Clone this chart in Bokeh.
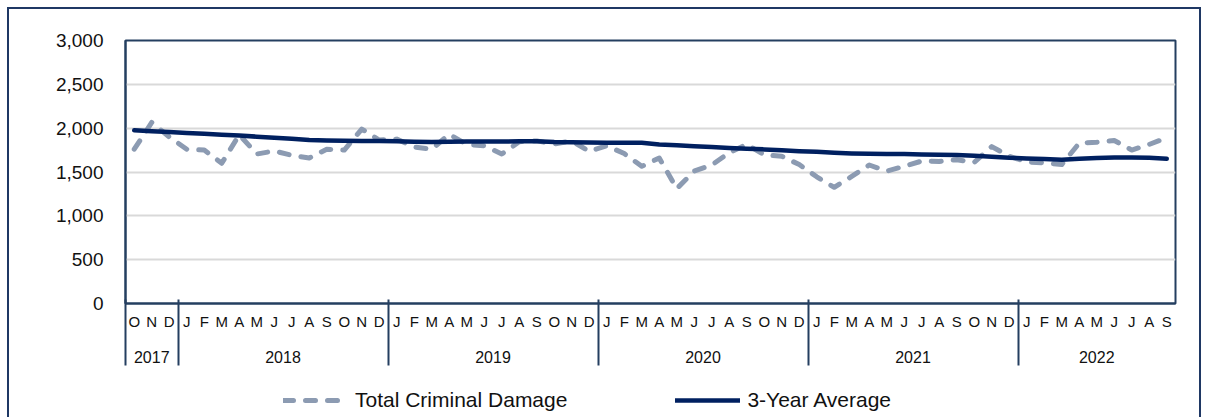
from bokeh.plotting import figure
from bokeh.layouts import column
from bokeh.models import (LinearAxis, FixedTicker, NumeralTickFormatter, Legend,
                          LegendItem, Range1d)
from bokeh.embed import file_html
from bokeh.resources import INLINE

# ---------------- data ----------------
month_letters = (["O", "N", "D"]
                 + ["J", "F", "M", "A", "M", "J", "J", "A", "S", "O", "N", "D"] * 4
                 + ["J", "F", "M", "A", "M", "J", "J", "A", "S"])
years = ["2017", "2018", "2019", "2020", "2021", "2022"]
months_per_year = [3, 12, 12, 12, 12, 9]
series_names = ["Total Criminal Damage", "3-Year Average"]

total_damage = [
    1760, 2065, 1900,                                                     # 2017 O-D
    1760, 1750, 1600, 1925, 1705, 1740, 1690, 1660, 1760, 1750, 1990, 1865,  # 2018
    1875, 1785, 1760, 1930, 1815, 1800, 1705, 1845, 1855, 1820, 1855, 1735,  # 2019
    1800, 1710, 1565, 1660, 1310, 1510, 1580, 1720, 1815, 1695, 1680, 1585,  # 2020
    1445, 1325, 1450, 1580, 1510, 1565, 1625, 1620, 1640, 1610, 1790, 1680,  # 2021
    1615, 1605, 1585, 1830, 1840, 1860, 1750, 1815, 1890,                    # 2022 J-S
]
three_year_avg = [
    1975, 1965, 1955,
    1945, 1935, 1925, 1915, 1903, 1892, 1880, 1866, 1860, 1857, 1855, 1855,
    1850, 1846, 1842, 1845, 1848, 1848, 1848, 1850, 1850, 1842, 1840, 1836,
    1835, 1835, 1833, 1815, 1805, 1795, 1785, 1775, 1766, 1758, 1748, 1738,
    1730, 1720, 1712, 1708, 1705, 1705, 1700, 1697, 1693, 1685, 1675, 1662,
    1655, 1648, 1640, 1650, 1660, 1665, 1665, 1662, 1650,
]

y_ticks = [0, 500, 1000, 1500, 2000, 2500, 3000]

# ---------------- derived positions ----------------
idx = list(range(len(month_letters)))
starts = []
s = 0
for n in months_per_year:
    starts.append(s)
    s += n
year_centers = [st + (n - 1) / 2 for st, n in zip(starts, months_per_year)]
boundaries = [st - 0.5 for st in starts]

NAVY = "#002060"
FRAME = "#243f60"
DASH = "#8C9BB2"
FONT = "Liberation Sans"
DASH_STYLE = dict(line_color=DASH, line_width=5, line_dash="10 12",
                  line_cap="round", line_join="round")
AVG_STYLE = dict(line_color=NAVY, line_width=4.5, line_cap="round", line_join="round")

p = figure(width=1190, height=364, output_backend="svg", toolbar_location=None,
           x_axis_type=None, x_range=Range1d(-0.5, len(idx) - 0.5),
           y_range=Range1d(0, 3000),
           min_border_left=116, min_border_right=24, min_border_top=31,
           min_border_bottom=70)

p.outline_line_color = FRAME
p.outline_line_width = 2
p.xgrid.visible = False
p.ygrid.grid_line_color = "#d9d9d9"
p.ygrid.grid_line_width = 2
p.ygrid.ticker = FixedTicker(ticks=y_ticks)

ya = p.yaxis[0]
ya.ticker = FixedTicker(ticks=y_ticks)
ya.formatter = NumeralTickFormatter(format="0,0")
ya.axis_line_color = FRAME
ya.axis_line_width = 2
ya.major_tick_line_color = None
ya.minor_tick_line_color = None
ya.major_tick_out = 0
ya.major_label_standoff = 22
ya.major_label_text_font = FONT
ya.major_label_text_font_size = "19px"
ya.major_label_text_color = "#111111"

# month letters
month_axis = LinearAxis(
    ticker=FixedTicker(ticks=idx),
    major_label_overrides={i: m for i, m in enumerate(month_letters)},
)
month_axis.axis_line_color = FRAME
month_axis.axis_line_width = 2
month_axis.major_tick_line_color = None
month_axis.minor_tick_line_color = None
month_axis.major_tick_out = 0
month_axis.major_tick_in = 0
month_axis.minor_tick_out = 0
month_axis.minor_tick_in = 0
month_axis.major_label_standoff = 9
month_axis.major_label_text_font = FONT
month_axis.major_label_text_font_size = "15px"
month_axis.major_label_text_color = "#111111"
p.add_layout(month_axis, "below")

# year labels
year_axis = LinearAxis(
    ticker=FixedTicker(ticks=year_centers),
    major_label_overrides={c: y for c, y in zip(year_centers, years)},
)
year_axis.axis_line_color = None
year_axis.major_tick_line_color = None
year_axis.minor_tick_line_color = None
year_axis.major_tick_out = 0
year_axis.major_tick_in = 0
year_axis.minor_tick_out = 0
year_axis.minor_tick_in = 0
year_axis.major_label_standoff = 18
year_axis.major_label_text_font = FONT
year_axis.major_label_text_font_size = "16px"
year_axis.major_label_text_color = "#111111"
p.add_layout(year_axis, "below")

# year separators (ticks pointing back up to the frame)
sep_axis = LinearAxis(ticker=FixedTicker(ticks=[], minor_ticks=boundaries))
sep_axis.axis_line_color = None
sep_axis.major_tick_line_color = None
sep_axis.major_tick_out = 0
sep_axis.major_tick_in = 0
sep_axis.minor_tick_line_color = FRAME
sep_axis.minor_tick_line_width = 2
sep_axis.minor_tick_out = 0
sep_axis.minor_tick_in = 66
sep_axis.major_label_standoff = 0
sep_axis.major_label_text_font_size = "0px"
p.add_layout(sep_axis, "below")

p.line(idx, total_damage, **DASH_STYLE)
p.line(idx, three_year_avg, **AVG_STYLE)

# ---------------- legend strip ----------------
# the series are plotted here too, but outside the visible range, so that
# only their legend samples show
lg = figure(width=1190, height=44, output_backend="svg", toolbar_location=None,
            x_axis_type=None, y_axis_type=None,
            x_range=Range1d(-1000, -999), y_range=Range1d(0, 3000),
            min_border_left=0, min_border_right=0, min_border_top=0,
            min_border_bottom=0)
lg.outline_line_color = None
sample_total = lg.line(idx, total_damage, **DASH_STYLE)
sample_avg = lg.line(idx, three_year_avg, **AVG_STYLE)
legend = Legend(items=[LegendItem(label=series_names[0], renderers=[sample_total]),
                       LegendItem(label=series_names[1], renderers=[sample_avg])],
                orientation="horizontal", location=(158, 5),
                glyph_width=65, glyph_height=20, label_standoff=7, spacing=108,
                padding=0, margin=0, border_line_color=None,
                background_fill_alpha=0,
                label_text_font=FONT, label_text_font_size="21px",
                label_text_color="#111111")
lg.add_layout(legend, "center")

layout = column(p, lg, spacing=0,
                styles={"border": "2px solid #1f3864", "border-bottom": "none",
                        "margin-left": "7px", "margin-top": "7px"})

open("out.html", "w").write(file_html(layout, INLINE))
